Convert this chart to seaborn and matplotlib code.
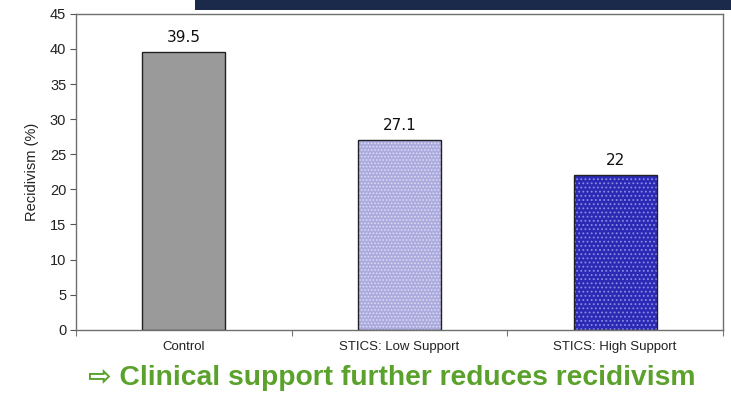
import matplotlib
matplotlib.use('Agg')
import matplotlib.pyplot as plt
from matplotlib.patches import Rectangle
import numpy as np
import pandas as pd
import seaborn as sns

# Data
groups = ['Control', 'STICS: Low Support', 'STICS: High Support']
recidivism = [39.5, 27.1, 22]
value_labels = ['39.5', '27.1', '22']
y_ticks = [0, 5, 10, 15, 20, 25, 30, 35, 40, 45]

face_colors = ['#9a9a9a', '#aaaade', '#2a2ab4']
hatch_colors = ['#9a9a9a', '#dcdcf2', '#8a8ae6']
hatches = ['', '.....', '....']

sns.set_theme(style='white')
plt.rcParams['font.family'] = ['Liberation Sans', 'DejaVu Sans']
plt.rcParams['hatch.linewidth'] = 0.8

df = pd.DataFrame({'group': groups, 'recidivism': recidivism})

fig = plt.figure(figsize=(7.31, 3.95), dpi=100)
ax = fig.add_axes([0.104, 0.165, 0.885, 0.80])

sns.barplot(data=df, x='group', y='recidivism', order=groups, width=0.385,
            color='#999999', ax=ax)

# hatch colour follows edgecolor, so the dark outline is drawn as a separate box
for patch, fc, hc, h in zip(ax.patches, face_colors, hatch_colors, hatches):
    patch.set_facecolor(fc)
    patch.set_hatch(h)
    patch.set_edgecolor(hc if h else '#222222')
    patch.set_linewidth(0 if h else 1.0)
    if h:
        x, y = patch.get_xy()
        ax.add_patch(Rectangle((x, y), patch.get_width(), patch.get_height(),
                               fill=False, edgecolor='#222222', linewidth=1.0,
                               zorder=patch.get_zorder() + 0.1))

for i, (v, lab) in enumerate(zip(recidivism, value_labels)):
    ax.text(i, v + 1.0, lab, ha='center', va='bottom', fontsize=11,
            family='DejaVu Sans', color='#111111')

ax.set_xlim(-0.5, 2.5)
ax.set_ylim(0, 45)
ax.set_yticks(y_ticks)
ax.tick_params(axis='y', which='major', direction='out', length=4, width=0.8,
               color='#555555', labelsize=10.5, labelcolor='#222222', left=True, pad=3)
ax.tick_params(axis='x', which='major', length=0, labelsize=9.5, labelcolor='#222222', pad=8)
ax.set_xticks([-0.5, 0.5, 1.5, 2.5], minor=True)
ax.tick_params(axis='x', which='minor', direction='out', length=4, width=0.8,
               color='#777777', bottom=True)
ax.set_xlabel('')
ax.set_ylabel('Recidivism (%)', fontsize=10.5, color='#222222', labelpad=8)

for side in ['left', 'right', 'top', 'bottom']:
    ax.spines[side].set_visible(True)
    ax.spines[side].set_color('#707070')
    ax.spines[side].set_linewidth(1.0)

# dark banner at the top of the slide
fig.patches.append(Rectangle((195 / 731, 1 - 10 / 395), 1 - 195 / 731, 10 / 395,
                             transform=fig.transFigure, facecolor='#1b2a4a',
                             edgecolor='none', zorder=0))

fig.text(88 / 731, 1 - 378 / 395, '\u21e8 Clinical support further reduces recidivism',
         ha='left', va='center', fontsize=20.3, fontweight='bold', color='#5aa22c',
         family=['Liberation Sans', 'DejaVu Sans'])

fig.savefig('out.png', dpi=100)
